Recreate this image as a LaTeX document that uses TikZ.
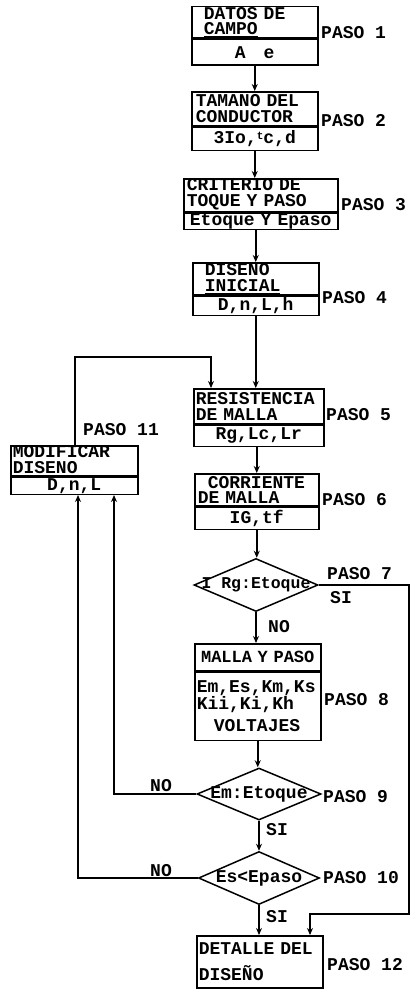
\documentclass[tikz,border=0pt]{standalone}
\usepackage{fontspec}
\setmonofont{Liberation Mono}
\usetikzlibrary{shapes.geometric,arrows.meta}
\newcommand\myfont{\ttfamily\bfseries\fontsize{18}{15.5}\selectfont}
\newcommand\smfont{\ttfamily\bfseries\fontsize{16.5}{15}\selectfont}
\begin{document}
\begin{tikzpicture}[x=1pt,y=-1pt,
  box/.style={draw, line width=1.5pt, inner ysep=0pt, font=\myfont, anchor=north west},
  topl/.style={box, align=left},
  botc/.style={box, align=center, inner xsep=2pt},
  arr/.style={-{Stealth[length=7pt,width=6pt]}, line width=1.5pt},
  lbl/.style={font=\myfont, anchor=west, inner sep=0pt},
  dia/.style={draw, diamond, line width=1.5pt, inner sep=0pt}]
\useasboundingbox (0,0) rectangle (410,990);

% Box 1
\node[topl, inner xsep=12pt, text width=102pt, minimum width=126pt, minimum height=31pt] (b1t) at (191,6) {DATOS DE\\\underline{CAMPO}};
\node[botc, text width=122pt, minimum width=126pt, minimum height=26pt] (b1b) at (b1t.south west) {A~~~e};
% Box 2
\node[topl, inner xsep=4pt, text width=118pt, minimum width=126pt, minimum height=34pt] (b2t) at (191,91) {TAMANO DEL\\CONDUCTOR};
\node[botc, text width=122pt, minimum width=126pt, minimum height=23pt] (b2b) at (b2t.south west) {3Io,\raisebox{4pt}{\fontsize{11}{11}\selectfont t}c,d};
% Box 3
\node[topl, inner xsep=3pt, text width=148pt, minimum width=154pt, minimum height=28pt] (b3t) at (183,178) {CRITERIO DE\\\underline{TOQUE Y PASO}};
\node[botc, text width=150pt, minimum width=154pt, minimum height=16pt] (b3b) at (b3t.south west) {Etoque Y Epaso};
% Box 4
\node[topl, inner xsep=12pt, text width=102pt, minimum width=126pt, minimum height=32pt] (b4t) at (192,262) {DISENO\\\underline{INICIAL}};
\node[botc, text width=122pt, minimum width=126pt, minimum height=19pt] (b4b) at (b4t.south west) {D,n,L,h};
% Box 5
\node[topl, inner xsep=2pt, text width=126pt, minimum width=130pt, minimum height=35pt] (b5t) at (193,388) {RESISTENCIA\\DE MALLA};
\node[botc, text width=126pt, minimum width=130pt, minimum height=21pt] (b5b) at (b5t.south west) {Rg,Lc,Lr};
% Box 6
\node[topl, inner xsep=3pt, text width=118pt, minimum width=124pt, minimum height=32pt] (b6t) at (194,473) {\hspace*{10pt}CORRIENTE\\DE MALLA};
\node[botc, text width=120pt, minimum width=124pt, minimum height=22pt] (b6b) at (b6t.south west) {IG,tf};
% Diamond 7
\node[dia, minimum width=124pt, minimum height=53pt, label={[font=\smfont]center:I Rg:Etoque}] (d7) at (256,585) {};
% Box 8
\node[botc, font=\ttfamily\bfseries\fontsize{17}{14}\selectfont, text width=122pt, minimum width=126pt, minimum height=27pt] (b8t) at (194,643) {MALLA Y PASO};
\node[topl, inner xsep=2pt, text width=122pt, minimum width=126pt, minimum height=68pt] (b8b) at (b8t.south west) {Em,Es,Km,Ks\\Kii,Ki,Kh\\[7pt]\hspace*{17pt}VOLTAJES\par\vspace*{15pt}};
% Diamond 9
\node[dia, minimum width=124pt, minimum height=52pt, label={[font=\myfont]center:Em:Etoque}] (d9) at (259,794) {};
% Diamond 10
\node[dia, minimum width=121pt, minimum height=53pt, label={[font=\myfont]center:Es<Epaso}] (d10) at (259,878) {};
% Box 12
\node[topl, inner xsep=2pt, text width=122pt, minimum width=126pt, minimum height=52pt] (b12) at (196,935) {DETALLE DEL\\[10pt]DISEÑO};
% Box 11
\node[topl, inner xsep=2pt, text width=123pt, minimum width=127pt, minimum height=30pt] (b11t) at (10,445) {MODIFICAR\\\underline{DISENO}};
\node[botc, text width=123pt, minimum width=127pt, minimum height=17pt] (b11b) at (b11t.south west) {D,n,L};

% step labels
\node[lbl] (p1) at (321,33) {PASO 1};
\node[lbl] (p2) at (321,121) {PASO 2};
\node[lbl] (p3) at (341,205) {PASO 3};
\node[lbl] (p4) at (322,298) {PASO 4};
\node[lbl] (p5) at (326,415) {PASO 5};
\node[lbl] (p6) at (322,500) {PASO 6};
\node[lbl] (p7) at (327,574) {PASO 7};
\node[lbl] (si7) at (330,598) {SI};
\node[lbl] (no7) at (268,627) {NO};
\node[lbl] (p8) at (324,700) {PASO 8};
\node[lbl] (no9) at (150,786) {NO};
\node[lbl] (p9) at (323,797) {PASO 9};
\node[lbl] (si9) at (266,830) {SI};
\node[lbl] (no10) at (150,871) {NO};
\node[lbl] (p10) at (323,878) {PASO 10};
\node[lbl] (si10) at (266,917) {SI};
\node[lbl] (p12) at (327,965) {PASO 12};
\node[lbl] (p11) at (83,430) {PASO 11};

% main flow
\draw[arr] (b1b.south) -- (b1b.south |- b2t.north);
\draw[arr] (b2b.south) -- (b2b.south |- b3t.north);
\draw[arr] (b4t.north |- b3b.south) -- (b4t.north);
\draw[arr] (b4b.south) -- (b4b.south |- b5t.north);
\draw[arr] (b6t.north |- b5b.south) -- (b6t.north);
\draw[arr] (b6b.south) -- (b6b.south |- d7.north);
\draw[arr] (d7.south) -- (d7.south |- b8t.north);
\draw[arr] (b8b.south) -- (b8b.south |- d9.north);
\draw[arr] (d9.south) -- (d10.north);
\draw[arr] (d10.south) -- (d10.south |- b12.north);

% SI branch of step 7
\coordinate (r1) at (409,914);
\coordinate (r2) at (310,914);
\draw[arr] (d7.east) -| (r1) -- (r2) -- (r2 |- b12.north);

% NO branches to modify
\coordinate (in9) at (114,492);
\coordinate (in10) at (78,492);
\draw[arr] (d9.west) -| (in9 |- b11b.south);
\draw[arr] (d10.west) -| (in10 |- b11b.south);

% back to step 5
\coordinate (up1) at (75,357);
\coordinate (dn5) at (211,357);
\draw[arr] (up1 |- b11t.north) -- (up1) -- (dn5) -- (dn5 |- b5t.north);
\end{tikzpicture}
\end{document}
